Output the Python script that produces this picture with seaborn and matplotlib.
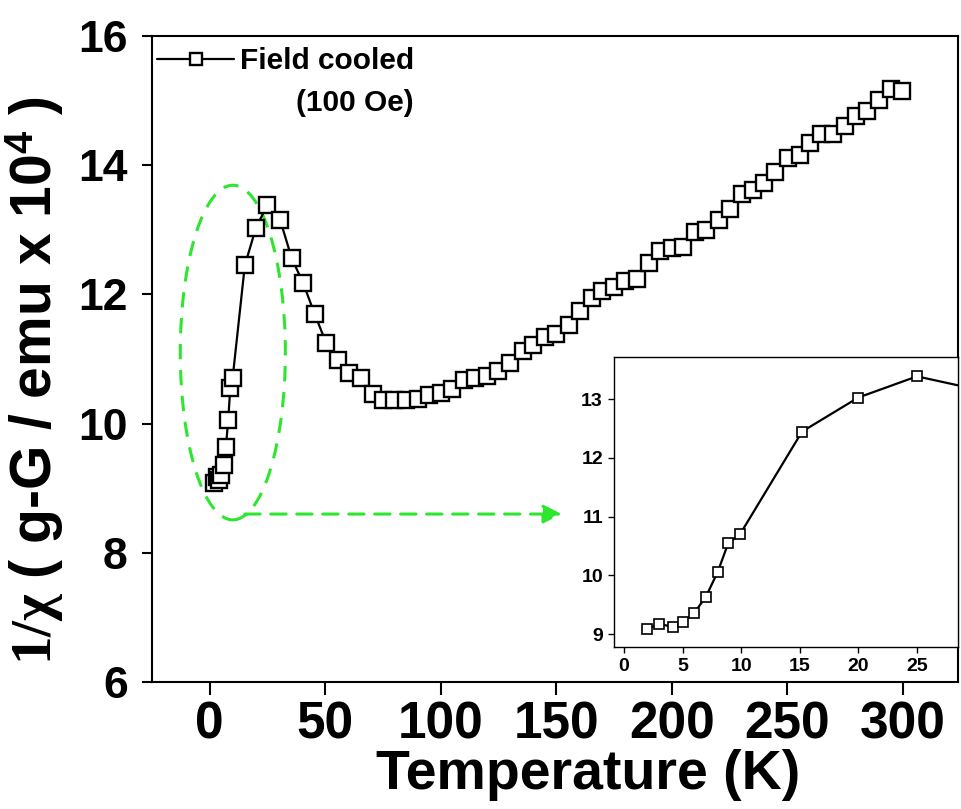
import numpy as np
import pandas as pd
import matplotlib
matplotlib.use("Agg")
import matplotlib.pyplot as plt
import seaborn as sns
from matplotlib.patches import Ellipse

# ---- data ----
temperature = [2, 3, 4.2, 5, 6, 7, 8, 8.9, 9.9, 15.2, 20, 25,
               30.5, 35.5, 40.5, 45.5, 50.5, 55.5, 60.5, 65.5, 70.5, 75,
               80, 85, 90, 95, 100, 105, 110, 115, 120, 125, 130, 135.5,
               140, 145, 150, 155.5, 160.5, 165.5, 170, 175, 180, 185,
               190, 195, 200, 205, 210, 215, 220.3, 225.3, 230.4, 235.2,
               240, 244.8, 250.5, 255.4, 260, 264.8, 269.8, 274.9, 279.7,
               284.6, 289.8, 294.8, 299.8]
inv_chi = [9.085, 9.17, 9.125, 9.20, 9.36, 9.64, 10.06, 10.55, 10.70, 12.45, 13.03, 13.39,
           13.15, 12.56, 12.17, 11.69, 11.24, 10.99, 10.78, 10.70, 10.46, 10.36,
           10.37, 10.36, 10.38, 10.45, 10.48, 10.54, 10.67, 10.70, 10.73, 10.82, 10.94, 11.12,
           11.22, 11.34, 11.38, 11.53, 11.75, 11.95, 12.06, 12.11, 12.20, 12.24,
           12.49, 12.67, 12.72, 12.73, 12.97, 13.00, 13.15, 13.32, 13.55, 13.62,
           13.72, 13.90, 14.11, 14.16, 14.34, 14.49, 14.49, 14.61, 14.76,
           14.84, 15.01, 15.18, 15.15]
main_xticks = [0, 50, 100, 150, 200, 250, 300]
main_yticks = [6, 8, 10, 12, 14, 16]
inset_xticks = [0, 5, 10, 15, 20, 25]
inset_yticks = [9, 10, 11, 12, 13]
series_label = "Field cooled"
series_note = "(100 Oe)"

df = pd.DataFrame({"T": temperature, "inv_chi": inv_chi})

sns.set_style("ticks")
plt.rcParams["font.family"] = ["Liberation Sans", "DejaVu Sans"]
plt.rcParams["font.weight"] = "bold"
for key in ["text.color", "axes.labelcolor", "xtick.color", "ytick.color",
            "axes.edgecolor", "xtick.labelcolor", "ytick.labelcolor"]:
    plt.rcParams[key] = "black"
plt.rcParams["mathtext.fontset"] = "custom"
plt.rcParams["mathtext.rm"] = "Liberation Serif"
plt.rcParams["mathtext.it"] = "Liberation Serif:italic"
plt.rcParams["mathtext.bf"] = "Liberation Sans:bold"
plt.rcParams["mathtext.sf"] = "Liberation Sans:bold"

W, H = 961, 809
fig = plt.figure(figsize=(W / 100, H / 100), dpi=100)
fig.patch.set_facecolor("white")

# main axes
ax = fig.add_axes([152 / W, (H - 682) / H, 806 / W, 646 / H])
sns.lineplot(data=df, x="T", y="inv_chi", ax=ax, color="black", linewidth=1.6,
             marker="s", markersize=11.5, markerfacecolor="white",
             markeredgecolor="black", markeredgewidth=1.7, label=series_label,
             sort=False)
ax.set_xlim(-25, 324)
ax.set_ylim(6, 16)
ax.set_xticks(main_xticks)
ax.set_yticks(main_yticks)
ax.tick_params(axis="x", direction="out", length=9, width=1.5, labelsize=37, pad=4)
ax.tick_params(axis="y", direction="out", length=7.5, width=1.5, labelsize=32, pad=10)
for lab in ax.get_xticklabels() + ax.get_yticklabels():
    lab.set_fontweight("bold")
for sp in ax.spines.values():
    sp.set_linewidth(1.5)
    sp.set_visible(True)

ax.set_xlabel("Temperature (K)", fontsize=40, fontweight="bold")
ax.xaxis.set_label_coords(0.541, -0.103)
ax.set_ylabel(r"$\mathrm{1/\chi}$ ( g-G / emu x 10$^{\mathbf{4}}$ )",
              fontsize=41, fontweight="bold")
ax.yaxis.set_label_coords(-0.107, 0.467)

leg = ax.legend(loc="center left", bbox_to_anchor=(0.006, 0.961), frameon=False,
                borderaxespad=0, borderpad=0, handlelength=2.6, handletextpad=0.2,
                fontsize=21.5, markerscale=0.8)
for t in leg.get_texts():
    t.set_fontweight("bold")
ax.text(0.324, 0.896, series_note, transform=ax.transAxes, ha="right", va="center",
        fontsize=21.5, fontweight="bold")

green = "#2ee62e"
ell = Ellipse((10.0, 11.1), width=45.5, height=5.18, fill=False, edgecolor=green,
              linestyle=(0, (5, 3.5)), linewidth=2.2, zorder=1)
ax.add_patch(ell)
ax.annotate("", xy=(152.5, 8.6), xytext=(15.2, 8.6),
            arrowprops=dict(arrowstyle="-|>", color=green, lw=2.2,
                            linestyle=(0, (5, 3.5)), mutation_scale=28,
                            shrinkA=0, shrinkB=0))

# inset axes
ins = fig.add_axes([614 / W, (H - 647) / H, 344 / W, 290 / H])
sns.lineplot(data=df, x="T", y="inv_chi", ax=ins, color="black", linewidth=1.6,
             marker="s", markersize=7.5, markerfacecolor="white",
             markeredgecolor="black", markeredgewidth=1.2, sort=False, legend=False)
ins.set_xlim(-0.85, 28.5)
ins.set_ylim(8.78, 13.72)
ins.set_xticks(inset_xticks)
ins.set_yticks(inset_yticks)
ins.set_xlabel("")
ins.set_ylabel("")
ins.tick_params(direction="out", length=4, width=1, labelsize=14, pad=4)
for lab in ins.get_xticklabels() + ins.get_yticklabels():
    lab.set_fontweight("bold")
for sp in ins.spines.values():
    sp.set_linewidth(1.0)
    sp.set_visible(True)

fig.savefig("out.png", dpi=100, facecolor="white")
